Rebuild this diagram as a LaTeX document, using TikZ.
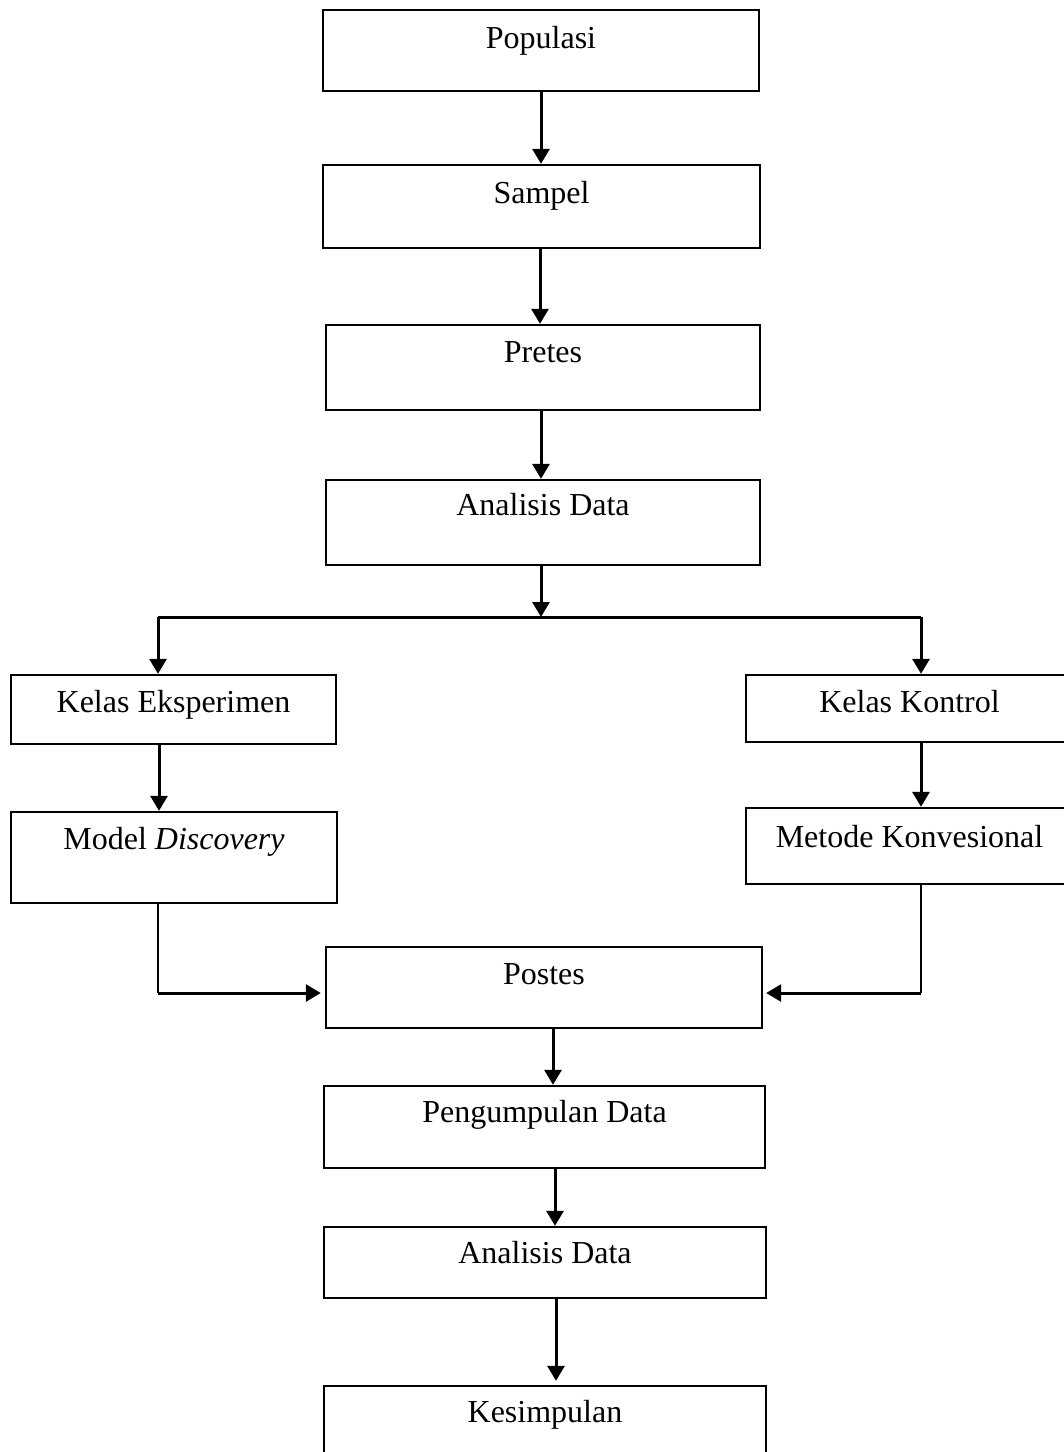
\documentclass[tikz,border=0pt]{standalone}
\usepackage{fontspec}
\setmainfont{Liberation Serif}
\usetikzlibrary{arrows.meta,fit,calc}
\tikzset{
  box/.style={draw, line width=2.4pt, inner sep=0pt, rectangle},
  lbl/.style={anchor=base, inner sep=0pt, font=\fontsize{32}{38}\selectfont},
  conn/.style={line width=3pt},
  thinconn/.style={line width=1.8pt},
  arr/.style={line width=3pt, -{Triangle[width=17pt,length=15pt]}},
}
\begin{document}
\begin{tikzpicture}[x=1pt,y=-1pt]
\useasboundingbox (0,0) rectangle (1064,1452);
% boxes
\node[box, fit={(323,10) (759,91)}] (pop) {};
\node[box, fit={(323,165) (760,248)}] (sam) {};
\node[box, fit={(326,325) (760,410)}] (pre) {};
\node[box, fit={(326,480) (760,565)}] (ad1) {};
\node[box, fit={(11,675) (336,744)}] (ke) {};
\node[box, fit={(746,675) (1073,742)}] (kk) {};
\node[box, fit={(11,812) (337,903)}] (md) {};
\node[box, fit={(746,808) (1073,884)}] (mk) {};
\node[box, fit={(326,947) (762,1028)}] (pos) {};
\node[box, fit={(324,1086) (765,1168)}] (pd) {};
\node[box, fit={(324,1227) (766,1298)}] (ad2) {};
\node[box, fit={(324,1386) (766,1468)}] (kes) {};
% labels
\node[lbl] (popt) at ([yshift=-40pt]pop.north) {Populasi};
\node[lbl] (samt) at ([yshift=-40pt]sam.north) {Sampel};
\node[lbl] (pret) at ([yshift=-39pt]pre.north) {Pretes};
\node[lbl] (ad1t) at ([yshift=-37pt]ad1.north) {Analisis Data};
\node[lbl] (ket) at ([yshift=-39pt]ke.north) {Kelas Eksperimen};
\node[lbl] (kkt) at ([yshift=-39pt]kk.north) {Kelas Kontrol};
\node[lbl] (mdt) at ([yshift=-39pt]md.north) {Model \textit{Discovery}};
\node[lbl] (mkt) at ([yshift=-41pt]mk.north) {Metode Konvesional};
\node[lbl] (post) at ([yshift=-39pt]pos.north) {Postes};
\node[lbl] (pdt) at ([yshift=-38pt]pd.north) {Pengumpulan Data};
\node[lbl] (ad2t) at ([yshift=-38pt]ad2.north) {Analisis Data};
\node[lbl] (kest) at ([yshift=-38pt]kes.north) {Kesimpulan};
% connectors
\draw[arr] (541,91) coordinate (a0) -- (a0 |- sam.north);
\draw[arr] (540,248) coordinate (a1) -- (a1 |- pre.north);
\draw[arr] (541,410) coordinate (a2) -- (a2 |- ad1.north);
\coordinate (jm) at (541,617);
\coordinate (jl) at (158,617);
\coordinate (jr) at (921,617);
\draw[arr] (jm |- ad1.south) -- (jm);
\draw[conn] (jl) -- (jr);
\draw[arr] (jl) -- (jl |- ke.north);
\draw[arr] (jr) -- (jr |- kk.north);
\draw[arr] (159,744) coordinate (a3) -- (a3 |- md.north);
\draw[arr] (jr |- kk.south) -- (jr |- mk.north);
\coordinate (lc) at (158,993);
\coordinate (rc) at (921,993);
\draw[thinconn] (lc |- md.south) -- (lc);
\draw[arr] (lc) -- ([xshift=-4pt]lc -| pos.west);
\draw[thinconn] (rc |- mk.south) -- (rc);
\draw[arr] (rc) -- ([xshift=3pt]rc -| pos.east);
\draw[arr] (553,1028) coordinate (a4) -- (a4 |- pd.north);
\draw[arr] (555,1168) coordinate (a5) -- (a5 |- ad2.north);
\draw[arr] (556,1298) coordinate (a6) -- ([yshift=4pt]a6 |- kes.north);
\end{tikzpicture}
\end{document}
